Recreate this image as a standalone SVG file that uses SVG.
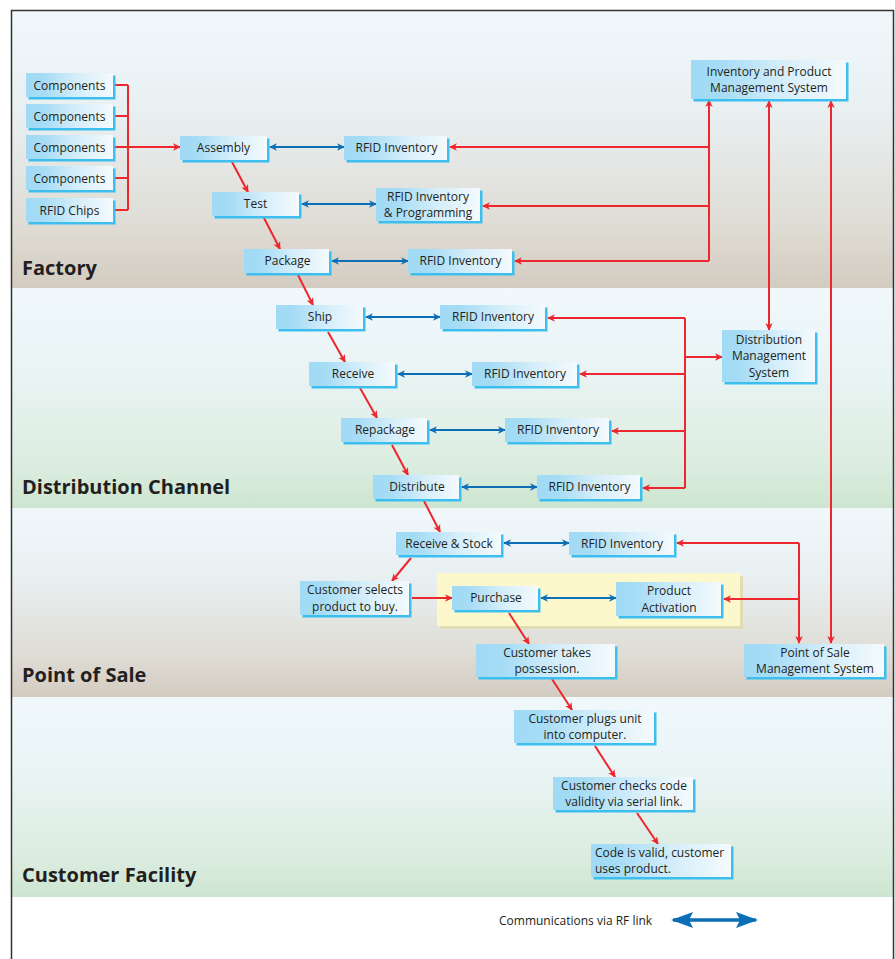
<svg xmlns="http://www.w3.org/2000/svg" width="895" height="959" viewBox="0 0 895 959">
<defs>
<linearGradient id="gTan" x1="0" y1="0" x2="0" y2="1">
<stop offset="0" stop-color="#f0f8fc"/><stop offset="0.35" stop-color="#e9f0f2"/><stop offset="0.8" stop-color="#dedbd3"/><stop offset="1" stop-color="#d3cbc0"/>
</linearGradient>
<linearGradient id="gGreen" x1="0" y1="0" x2="0" y2="1">
<stop offset="0" stop-color="#f0f8fc"/><stop offset="0.35" stop-color="#eaf4f5"/><stop offset="0.8" stop-color="#dcede0"/><stop offset="1" stop-color="#cde5d0"/>
</linearGradient>
<linearGradient id="gBox" x1="0" y1="0" x2="1" y2="0">
<stop offset="0" stop-color="#a0daf5"/><stop offset="0.2" stop-color="#a6dcf5"/><stop offset="0.6" stop-color="#d6eefa"/><stop offset="1" stop-color="#f4fafd"/>
</linearGradient>
<marker id="ar" viewBox="0 0 8 8" refX="7" refY="4" markerWidth="8" markerHeight="8" markerUnits="userSpaceOnUse" orient="auto-start-reverse">
<path d="M0,0.3 L8,4 L0,7.7 L2.2,4 z" fill="#ee262d"/>
</marker>
<marker id="ab" viewBox="0 0 8 8" refX="7" refY="4" markerWidth="8" markerHeight="8" markerUnits="userSpaceOnUse" orient="auto-start-reverse">
<path d="M0,0.3 L8,4 L0,7.7 L2.2,4 z" fill="#0c6fb6"/>
</marker>
<marker id="abig" viewBox="0 0 22 16" refX="20" refY="8" markerWidth="22" markerHeight="16" markerUnits="userSpaceOnUse" orient="auto-start-reverse">
<path d="M0,0 L22,8 L0,16 L4,8 z" fill="#0c6fb6"/>
</marker>
</defs>
<style>
.sh{fill:#3cbfee}
.bx{fill:url(#gBox)}
.t{font-family:"Open Sans","Noto Sans","Liberation Sans",sans-serif;font-size:12px;fill:#231f20;text-anchor:middle}
.tl{font-family:"Open Sans","Noto Sans","Liberation Sans",sans-serif;font-size:12px;fill:#231f20}
.band{font-family:"Open Sans","Noto Sans","Liberation Sans",sans-serif;font-size:20px;font-weight:700;fill:#231f20}
.r{fill:none;stroke:#ee262d;stroke-width:2}
.ra{fill:none;stroke:#ee262d;stroke-width:2;marker-end:url(#ar)}
.rd{fill:none;stroke:#ee262d;stroke-width:2;marker-end:url(#ar);marker-start:url(#ar)}
.bd{fill:none;stroke:#0c6fb6;stroke-width:2;marker-end:url(#ab);marker-start:url(#ab)}
</style>
<rect x="0" y="0" width="895" height="959" fill="#ffffff"/>
<g id="bands">
<rect x="12" y="11" width="881" height="277" fill="url(#gTan)"/>
<rect x="12" y="288" width="881" height="220" fill="url(#gGreen)"/>
<rect x="12" y="508" width="881" height="189" fill="url(#gTan)"/>
<rect x="12" y="697" width="881" height="200" fill="url(#gGreen)"/>
<text class="band" x="22" y="275">Factory</text>
<text class="band" x="22" y="494">Distribution Channel</text>
<text class="band" x="22" y="682">Point of Sale</text>
<text class="band" x="22" y="882">Customer Facility</text>
</g>
<path d="M11.5,959 V10.5 H893.5 V959" fill="none" stroke="#333333" stroke-width="1.5"/>
<g id="highlight">
<rect x="440" y="576" width="303" height="53" fill="#e0dcb4"/>
<rect x="437" y="573" width="303" height="53" fill="#fdf8cc"/>
</g>
<g id="connectors">
<path class="r" d="M114,85 H128 M114,116 H128 M114,178 H128 M114,210 H128 M128,85 V210"/>
<path class="ra" d="M114,147 H180"/>
<path class="ra" d="M232,162 L248,192"/>
<path class="ra" d="M264,218 L280,249"/>
<path class="ra" d="M298,275 L313,305"/>
<path class="ra" d="M328,332 L345,362"/>
<path class="ra" d="M360,388 L377,418"/>
<path class="ra" d="M392,445 L408,475"/>
<path class="ra" d="M424,501 L440,532"/>
<path class="ra" d="M411,558 L392,581"/>
<path class="ra" d="M412,598 H452"/>
<path class="ra" d="M509,613 L529,644"/>
<path class="ra" d="M552,679 L572,710"/>
<path class="ra" d="M595,746 L615,777"/>
<path class="ra" d="M637,813 L658,844"/>
<path class="ra" d="M709,261 V100"/>
<path class="ra" d="M709,147 H450"/>
<path class="ra" d="M709,206 H483"/>
<path class="ra" d="M709,261 H515"/>
<path class="rd" d="M769,101 V330"/>
<path class="rd" d="M831,101 V643"/>
<path class="r" d="M685,318 V488"/>
<path class="ra" d="M685,318 H548"/>
<path class="ra" d="M685,374 H580"/>
<path class="ra" d="M685,431 H612"/>
<path class="ra" d="M685,488 H643"/>
<path class="ra" d="M685,357 H722"/>
<path class="ra" d="M799,543 V643"/>
<path class="ra" d="M799,543 H677"/>
<path class="ra" d="M799,599 H724"/>
<path class="bd" d="M270,147 H344"/>
<path class="bd" d="M302,204 H376"/>
<path class="bd" d="M332,261 H408"/>
<path class="bd" d="M366,317 H440"/>
<path class="bd" d="M398,374 H472"/>
<path class="bd" d="M430,430 H505"/>
<path class="bd" d="M462,487 H537"/>
<path class="bd" d="M504,543 H569"/>
<path class="bd" d="M541,598 H616"/>
</g>
<g id="n-comp1"><rect class="sh" x="28.5" y="75.5" width="87" height="24"/><rect class="bx" x="26" y="73" width="87" height="24"/><text class="t" x="69.5" y="89.5">Components</text></g>
<g id="n-comp2"><rect class="sh" x="28.5" y="106.5" width="87" height="24"/><rect class="bx" x="26" y="104" width="87" height="24"/><text class="t" x="69.5" y="120.5">Components</text></g>
<g id="n-comp3"><rect class="sh" x="28.5" y="137.5" width="87" height="24"/><rect class="bx" x="26" y="135" width="87" height="24"/><text class="t" x="69.5" y="151.5">Components</text></g>
<g id="n-comp4"><rect class="sh" x="28.5" y="168.5" width="87" height="24"/><rect class="bx" x="26" y="166" width="87" height="24"/><text class="t" x="69.5" y="182.5">Components</text></g>
<g id="n-chips"><rect class="sh" x="28.5" y="200.5" width="87" height="24"/><rect class="bx" x="26" y="198" width="87" height="24"/><text class="t" x="69.5" y="214.5">RFID Chips</text></g>
<g id="n-assembly"><rect class="sh" x="182.5" y="138.5" width="87" height="24"/><rect class="bx" x="180" y="136" width="87" height="24"/><text class="t" x="223.5" y="152">Assembly</text></g>
<g id="n-test"><rect class="sh" x="214.5" y="194.5" width="87" height="24"/><rect class="bx" x="212" y="192" width="87" height="24"/><text class="t" x="255.5" y="208">Test</text></g>
<g id="n-package"><rect class="sh" x="246.5" y="251.5" width="85" height="24"/><rect class="bx" x="244" y="249" width="85" height="24"/><text class="t" x="287.5" y="265">Package</text></g>
<g id="n-rfid1"><rect class="sh" x="346.5" y="138.5" width="103" height="24"/><rect class="bx" x="344" y="136" width="103" height="24"/><text class="t" x="396.5" y="152">RFID Inventory</text></g>
<g id="n-rfidprog"><rect class="sh" x="378.5" y="190.5" width="104" height="33"/><rect class="bx" x="376" y="188" width="104" height="33"/><text class="t" x="428" y="200.5">RFID Inventory</text><text class="t" x="428" y="217">&amp; Programming</text></g>
<g id="n-rfid3"><rect class="sh" x="410.5" y="251.5" width="104" height="24"/><rect class="bx" x="408" y="249" width="104" height="24"/><text class="t" x="460.5" y="265">RFID Inventory</text></g>
<g id="n-ipms"><rect class="sh" x="693.5" y="62.5" width="155" height="39"/><rect class="bx" x="691" y="60" width="155" height="39"/><text class="t" x="769" y="75.5">Inventory and Product</text><text class="t" x="769" y="92">Management System</text></g>
<g id="n-ship"><rect class="sh" x="278.5" y="307.5" width="87" height="24"/><rect class="bx" x="276" y="305" width="87" height="24"/><text class="t" x="320" y="321">Ship</text></g>
<g id="n-rfid-ship"><rect class="sh" x="442.5" y="307.5" width="105" height="24"/><rect class="bx" x="440" y="305" width="105" height="24"/><text class="t" x="493" y="321">RFID Inventory</text></g>
<g id="n-receive"><rect class="sh" x="311.5" y="364.5" width="86" height="24"/><rect class="bx" x="309" y="362" width="86" height="24"/><text class="t" x="353" y="378">Receive</text></g>
<g id="n-rfid-rec"><rect class="sh" x="474.5" y="364.5" width="105" height="24"/><rect class="bx" x="472" y="362" width="105" height="24"/><text class="t" x="525" y="378">RFID Inventory</text></g>
<g id="n-repackage"><rect class="sh" x="343.5" y="420.5" width="86" height="24"/><rect class="bx" x="341" y="418" width="86" height="24"/><text class="t" x="385" y="434">Repackage</text></g>
<g id="n-rfid-rep"><rect class="sh" x="507.5" y="420.5" width="104" height="24"/><rect class="bx" x="505" y="418" width="104" height="24"/><text class="t" x="558" y="434">RFID Inventory</text></g>
<g id="n-distribute"><rect class="sh" x="375.5" y="477.5" width="86" height="24"/><rect class="bx" x="373" y="475" width="86" height="24"/><text class="t" x="417" y="491">Distribute</text></g>
<g id="n-rfid-dis"><rect class="sh" x="539.5" y="477.5" width="103" height="24"/><rect class="bx" x="537" y="475" width="103" height="24"/><text class="t" x="589.5" y="491">RFID Inventory</text></g>
<g id="n-dms"><rect class="sh" x="724.5" y="332.5" width="93" height="52"/><rect class="bx" x="722" y="330" width="93" height="52"/><text class="t" x="769" y="343.5">Distribution</text><text class="t" x="769" y="360">Management</text><text class="t" x="769" y="376.5">System</text></g>
<g id="n-recstock"><rect class="sh" x="398.5" y="534.5" width="105" height="23"/><rect class="bx" x="396" y="532" width="105" height="23"/><text class="t" x="449" y="548">Receive &amp; Stock</text></g>
<g id="n-rfid-pos"><rect class="sh" x="571.5" y="534.5" width="105" height="23"/><rect class="bx" x="569" y="532" width="105" height="23"/><text class="t" x="622" y="548">RFID Inventory</text></g>
<g id="n-custsel"><rect class="sh" x="302.5" y="583.5" width="109" height="34"/><rect class="bx" x="300" y="581" width="109" height="34"/><text class="t" x="355" y="594">Customer selects</text><text class="t" x="355" y="610.5">product to buy.</text></g>
<g id="n-purchase"><rect class="sh" x="454.5" y="588.5" width="86" height="24"/><rect class="bx" x="452" y="586" width="86" height="24"/><text class="t" x="496" y="602">Purchase</text></g>
<g id="n-activation"><rect class="sh" x="618.5" y="584.5" width="105" height="34"/><rect class="bx" x="616" y="582" width="105" height="34"/><text class="t" x="669" y="595">Product</text><text class="t" x="669" y="611.5">Activation</text></g>
<g id="n-custtake"><rect class="sh" x="478.5" y="646.5" width="139" height="33"/><rect class="bx" x="476" y="644" width="139" height="33"/><text class="t" x="547" y="656.5">Customer takes</text><text class="t" x="547" y="673">possession.</text></g>
<g id="n-pos"><rect class="sh" x="746.5" y="646.5" width="140" height="33"/><rect class="bx" x="744" y="644" width="140" height="33"/><text class="t" x="815" y="656.5">Point of Sale</text><text class="t" x="815" y="673">Management System</text></g>
<g id="n-plugs"><rect class="sh" x="516.5" y="712.5" width="140" height="33"/><rect class="bx" x="514" y="710" width="140" height="33"/><text class="t" x="585" y="722.5">Customer plugs unit</text><text class="t" x="585" y="739">into computer.</text></g>
<g id="n-checks"><rect class="sh" x="555.5" y="779.5" width="140" height="33"/><rect class="bx" x="553" y="777" width="140" height="33"/><text class="t" x="624" y="789.5">Customer checks code</text><text class="t" x="624" y="806">validity via serial link.</text></g>
<g id="n-valid"><rect class="sh" x="593.5" y="846.5" width="140" height="33"/><rect class="bx" x="591" y="844" width="140" height="33"/><text class="tl" x="595" y="856.5">Code is valid, customer</text><text class="tl" x="595" y="873">uses product.</text></g>
<g id="legend">
<text class="tl" x="499" y="925">Communications via RF link</text>
<path d="M673,920 H756" fill="none" stroke="#0c6fb6" stroke-width="3.5" marker-start="url(#abig)" marker-end="url(#abig)"/>
</g>
</svg>
